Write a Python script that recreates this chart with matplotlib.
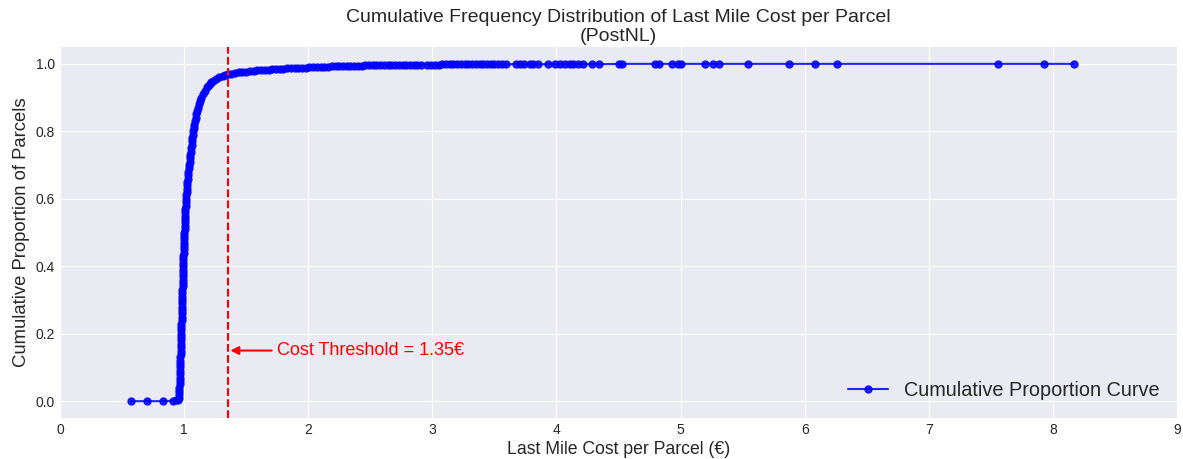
import matplotlib
matplotlib.use("Agg")
import matplotlib.pyplot as plt
import numpy as np

plt.style.use("seaborn-v0_8-darkgrid")
plt.rcParams['font.family'] = ['Liberation Sans', 'DejaVu Sans']

THRESHOLD = 1.35

# values, in four pieces
# lowest parcels, below 1 EUR
low_cost = [0.572, 0.70, 0.832, 0.91, 0.935, 0.950]
low_prop = [0.000, 0.000, 0.000, 0.001, 0.002, 0.004]

# the steep rise around 1 EUR
rise_cost = [0.958, 0.960, 0.961, 0.962, 0.963, 0.964, 0.965, 0.966, 0.967, 0.968,
             0.969, 0.970, 0.970, 0.971, 0.972, 0.972, 0.973, 0.974, 0.975, 0.976,
             0.977, 0.978, 0.979, 0.980, 0.981, 0.982, 0.983, 0.984, 0.985, 0.985,
             0.986, 0.986, 0.987, 0.988, 0.989, 0.990, 0.991, 0.992, 0.993, 0.993,
             0.994, 0.994, 0.995, 0.996, 0.997, 0.998, 0.999, 1.000, 1.002, 1.003,
             1.004, 1.005, 1.006, 1.007, 1.009, 1.010, 1.011, 1.012, 1.014, 1.016,
             1.018, 1.020, 1.022, 1.024, 1.027, 1.030, 1.033, 1.035, 1.038, 1.041,
             1.044, 1.047, 1.050, 1.053, 1.057, 1.060, 1.064, 1.067, 1.071, 1.075,
             1.079, 1.083, 1.088, 1.093, 1.099, 1.105, 1.112, 1.120, 1.130, 1.140,
             1.152, 1.166, 1.182, 1.195, 1.205, 1.220, 1.235, 1.255, 1.28, 1.31,
             1.33, 1.35]
rise_prop = [0.01, 0.02, 0.03, 0.04, 0.05, 0.06, 0.07, 0.08, 0.09, 0.10,
             0.11, 0.12, 0.13, 0.14, 0.15, 0.16, 0.17, 0.18, 0.19, 0.20,
             0.21, 0.22, 0.23, 0.24, 0.25, 0.26, 0.27, 0.28, 0.29, 0.30,
             0.31, 0.32, 0.33, 0.34, 0.35, 0.36, 0.37, 0.38, 0.39, 0.40,
             0.41, 0.42, 0.43, 0.44, 0.45, 0.46, 0.47, 0.48, 0.49, 0.50,
             0.51, 0.52, 0.53, 0.54, 0.55, 0.56, 0.57, 0.58, 0.59, 0.60,
             0.61, 0.62, 0.63, 0.64, 0.65, 0.66, 0.67, 0.68, 0.69, 0.70,
             0.71, 0.72, 0.73, 0.74, 0.75, 0.76, 0.77, 0.78, 0.79, 0.80,
             0.81, 0.82, 0.83, 0.84, 0.85, 0.86, 0.87, 0.88, 0.89, 0.90,
             0.91, 0.92, 0.93, 0.935, 0.94, 0.945, 0.95, 0.955, 0.96, 0.964,
             0.967, 0.969]

# dense plateau up to 3.6 EUR
plateau_cost = [1.38, 1.41, 1.44, 1.47, 1.50, 1.53, 1.56, 1.59, 1.62, 1.65, 1.68, 1.71,
                1.74, 1.77, 1.80, 1.83, 1.86, 1.89, 1.92, 1.95, 1.98, 2.01, 2.04, 2.07,
                2.10, 2.13, 2.16, 2.19, 2.22, 2.25, 2.28, 2.31, 2.34, 2.37, 2.40, 2.43,
                2.46, 2.49, 2.52, 2.55, 2.58, 2.61, 2.64, 2.67, 2.70, 2.73, 2.76, 2.79,
                2.82, 2.85, 2.88, 2.91, 2.96, 2.99, 3.02, 3.05, 3.08, 3.11, 3.14, 3.17,
                3.20, 3.23, 3.26, 3.29, 3.32, 3.35, 3.38, 3.41, 3.44, 3.47, 3.50, 3.53,
                3.56, 3.59]
plateau_prop = [0.971, 0.973, 0.975, 0.976, 0.977, 0.978, 0.980, 0.981, 0.982, 0.982, 0.983, 0.984,
                0.985, 0.986, 0.986, 0.987, 0.987, 0.988, 0.988, 0.989, 0.989, 0.990, 0.990, 0.991,
                0.991, 0.992, 0.992, 0.993, 0.993, 0.993, 0.994, 0.994, 0.995, 0.995, 0.995, 0.995,
                0.996, 0.996, 0.996, 0.996, 0.997, 0.997, 0.997, 0.997, 0.997, 0.997, 0.998, 0.998,
                0.998, 0.998, 0.998, 0.998, 0.998, 0.998, 0.998, 0.998, 0.999, 0.999, 0.999, 0.999,
                0.999, 0.999, 0.999, 0.999, 0.999, 0.999, 0.999, 0.999, 0.999, 0.999, 0.999, 0.999,
                0.999, 0.999]

# sparse expensive parcels
tail_cost = [3.67, 3.71, 3.74, 3.79, 3.81, 3.85, 3.93, 3.99, 4.03, 4.07, 4.11, 4.13,
             4.17, 4.21, 4.29, 4.34, 4.50, 4.53, 4.79, 4.83, 4.93, 4.98, 5.00, 5.20,
             5.26, 5.31, 5.54, 5.87, 6.08, 6.26, 7.56, 7.93, 8.17]
tail_prop = [0.999, 0.999, 0.999, 0.999, 0.999, 0.999, 0.999, 0.999, 0.999, 0.999, 0.999, 0.999,
             0.999, 0.999, 0.999, 0.999, 1.000, 1.000, 1.000, 1.000, 1.000, 1.000, 1.000, 1.000,
             1.000, 1.000, 1.000, 1.000, 1.000, 1.000, 1.000, 1.000, 1.000]

cost = low_cost + rise_cost + plateau_cost + tail_cost
cum_prop = low_prop + rise_prop + plateau_prop + tail_prop

fig = plt.figure(figsize=(11.83, 4.59), dpi=100)
ax = fig.add_axes([0.0507, 0.0893, 0.9443, 0.8083])

ax.plot(cost, cum_prop, marker='o', markersize=5, linewidth=1.5,
        color='blue', alpha=0.85, label='Cumulative Proportion Curve')
ax.axvline(THRESHOLD, color='red', linestyle='--', linewidth=1.5)
ax.annotate(f'Cost Threshold = {THRESHOLD}€', xy=(THRESHOLD, 0.15), xytext=(1.75, 0.15),
            color='red', fontsize=13, va='center',
            arrowprops=dict(arrowstyle='-|>', color='red', lw=1.5, mutation_scale=12))

ax.set_xlim(0, 9)
ax.set_xticks(range(10))
ax.set_title('Cumulative Frequency Distribution of Last Mile Cost per Parcel\n(PostNL)',
             fontsize=14, color='.15', linespacing=1.15, pad=4)
ax.set_xlabel('Last Mile Cost per Parcel (€)', fontsize=12.7, color='.15', labelpad=3)
ax.set_ylabel('Cumulative Proportion of Parcels', fontsize=13.3, color='.15')
ax.tick_params(labelsize=10, colors='.15')
ax.legend(loc='lower right', fontsize=14.3, frameon=False)

fig.savefig('out.png', dpi=100)
